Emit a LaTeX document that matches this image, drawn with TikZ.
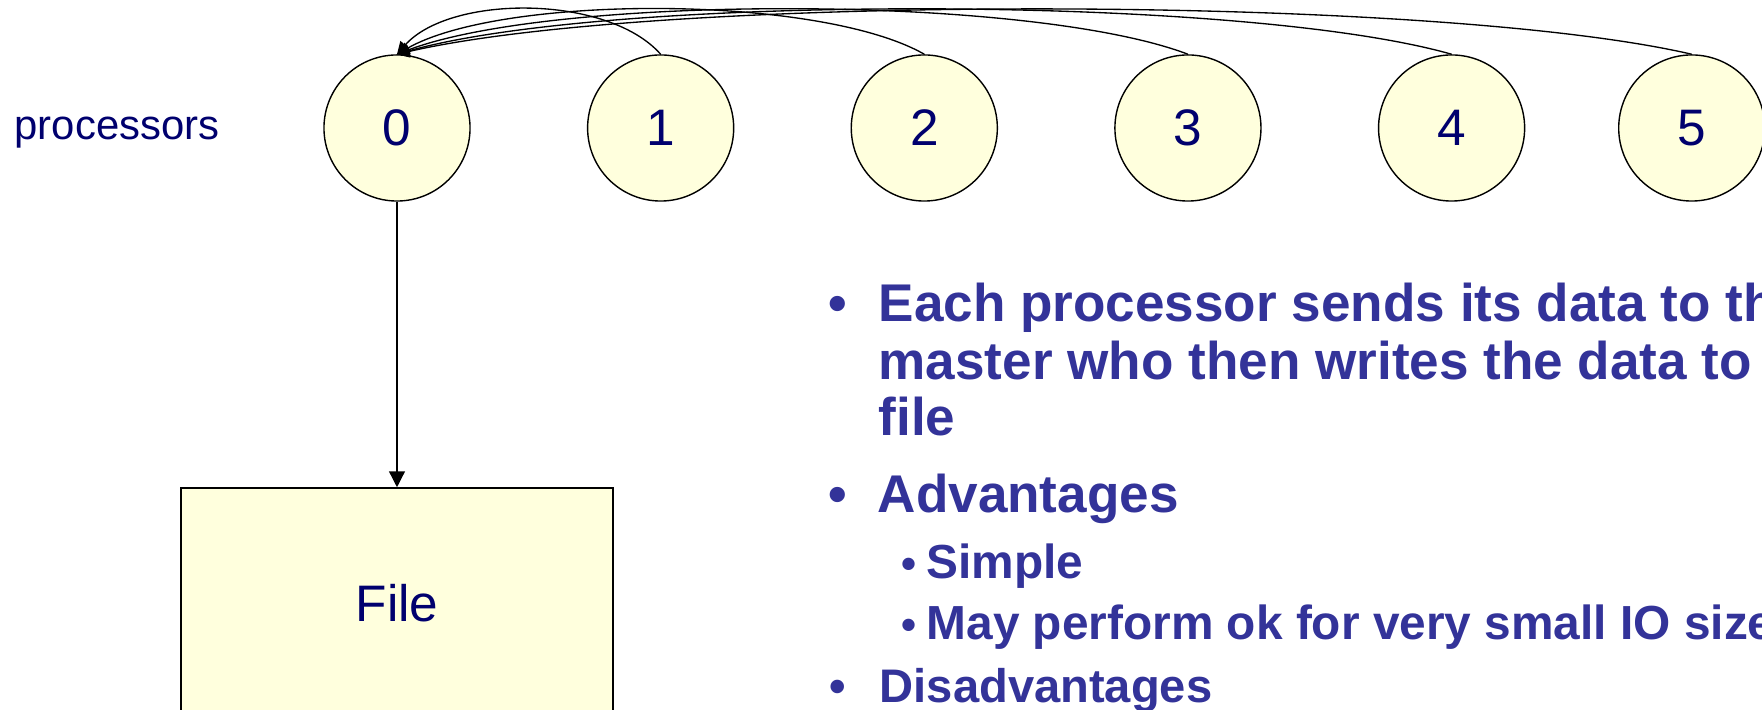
\documentclass[tikz,border=0pt]{standalone}
\usepackage{fontspec}
\setmainfont{Liberation Sans}
\usetikzlibrary{arrows.meta}
\definecolor{procblue}{RGB}{0,0,110}
\definecolor{textblue}{RGB}{51,51,153}
\definecolor{paleyellow}{RGB}{255,255,221}

\begin{document}
\begin{tikzpicture}[x=0.01cm,y=-0.01cm,>={Triangle[length=4.5pt,width=4.5pt]},
    node distance=2.635cm,
    proc node/.style={circle,draw,line width=0.4pt,fill=paleyellow,minimum size=1.46cm,
      inner sep=0pt,text=procblue,font=\fontsize{14.6}{17}\selectfont},
    file node/.style={rectangle,draw,line width=0.55pt,fill=paleyellow,minimum width=4.32cm,
      minimum height=2.3cm,text=procblue,font=\fontsize{14.6}{17}\selectfont},
    gather/.style={-{Triangle[length=3.5pt,width=3.5pt]},line width=0.38pt},
    point/.style={anchor=base west,inner sep=0pt,text=textblue,font=\bfseries\fontsize{15.1}{18}\selectfont},
    sub point/.style={point,font=\bfseries\fontsize{13.6}{16}\selectfont}]
    \useasboundingbox (0,0) rectangle (1762,710);
    \clip (0,0) rectangle (1762,710);
    \node[anchor=base west,inner sep=0pt,text=procblue,font=\fontsize{11.9}{14}\selectfont] (label) at (14,140) {processors};
    \node[proc node] (0) at (397,128) {0};
    \node[proc node] (1) [right of=0] {1};
    \node[proc node] (2) [right of=1] {2};
    \node[proc node] (3) [right of=2] {3};
    \node[proc node] (4) [right of=3] {4};
    \node[proc node] (5) [right of=4,node distance=2.4cm] {5};
    \node[file node] (file) [below of=0,node distance=4.75cm] {File};
    \draw[->,line width=0.38pt] (0) -- (file);
    % everybody sends to the master
    \draw[gather] (1.north) .. controls +(-53,-60) and +(53,-60) .. (0.north);
    \draw[gather] (2.north) .. controls +(-105,-60) and +(105,-60) .. (0.north);
    \draw[gather] (3.north) .. controls +(-158,-60) and +(158,-60) .. (0.north);
    \draw[gather] (4.north) .. controls +(-211,-60) and +(211,-60) .. (0.north);
    \draw[gather] (5.north) .. controls +(-259,-60) and +(259,-60) .. (0.north);
    % bullet list
    \node[point] (dot1) at (828,322) {•};
    \node[point] (each) at (878,322) {Each processor sends its data to the};
    \node[point] (master) at (878,380) {master who then writes the data to a};
    \node[point] (tofile) at (878,436) {file};
    \node[point] (dot2) at (828,513) {•};
    \node[point] (adv) at (877,513) {Advantages};
    \node[point,font=\bfseries\fontsize{12.2}{14}\selectfont] (dot3) at (901,579) {•};
    \node[sub point] (simple) at (926,579) {Simple};
    \node[point,font=\bfseries\fontsize{12.2}{14}\selectfont] (dot4) at (901,640) {•};
    \node[sub point] (small) at (926,640) {May perform ok for very small IO sizes};
    \node[point,font=\bfseries\fontsize{13.4}{16}\selectfont] (dot5) at (829,703) {•};
    \node[sub point,font=\bfseries\fontsize{13.4}{16}\selectfont] (disadv) at (879,703) {Disadvantages};
\end{tikzpicture}
\end{document}
